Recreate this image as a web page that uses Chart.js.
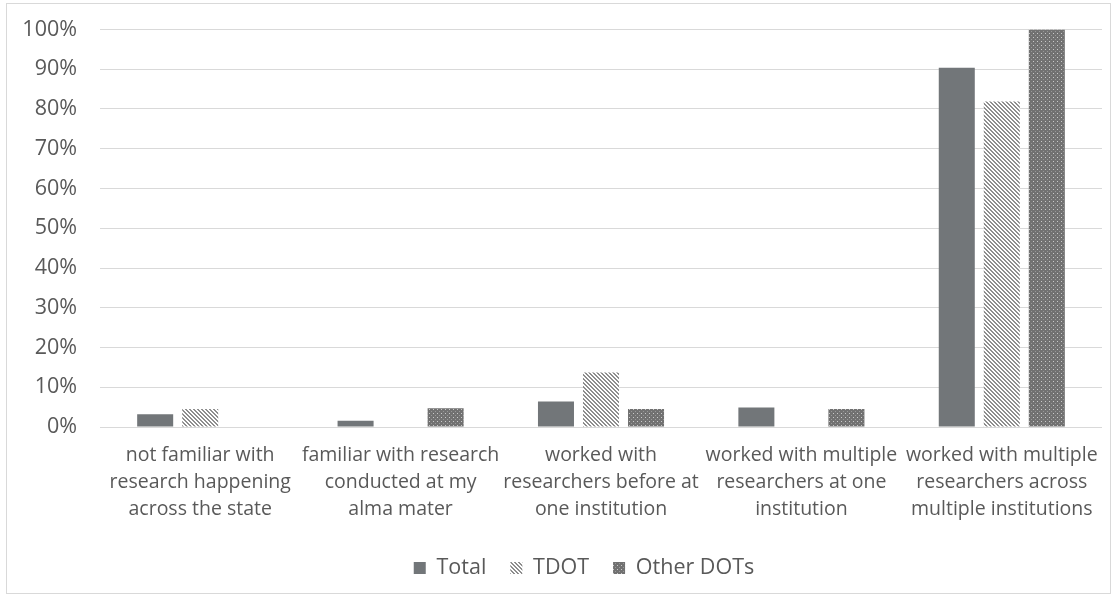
<!DOCTYPE html>
<html>
<head>
<meta charset="utf-8">
<script src="https://cdn.jsdelivr.net/npm/chart.js@4/dist/chart.umd.min.js"></script>
<style>
  html, body { margin: 0; padding: 0; background: #ffffff; }
  #wrap { width: 1117px; height: 596px; position: relative; }
  canvas { display: block; }
</style>
</head>
<body>
<div id="wrap"><canvas id="chart" width="1117" height="596"></canvas></div>
<script>
// Survey categories (wrapped into lines as shown under the axis)
const categories = [
  ['not familiar with', 'research happening', 'across the state'],
  ['familiar with research', 'conducted at my', 'alma mater'],
  ['worked with', 'researchers before at', 'one institution'],
  ['worked with multiple', 'researchers at one', 'institution'],
  ['worked with multiple', 'researchers across', 'multiple institutions']
];

// Share of respondents (%) per group
const totalValues    = [3.2, 1.6, 6.4, 4.9, 90.4];
const tdotValues     = [4.5, 0, 13.7, 0, 81.9];
const otherDotValues = [0, 4.7, 4.5, 4.5, 100];

const seriesNames = ['Total', 'TDOT', 'Other DOTs'];

// Y axis ticks (%)
const yTickValues = [0, 10, 20, 30, 40, 50, 60, 70, 80, 90, 100];

const canvas = document.getElementById('chart');
const ctx = canvas.getContext('2d');

// Fine downward-diagonal hatch
function hatchPattern() {
  const c = document.createElement('canvas');
  c.width = 4; c.height = 4;
  const g = c.getContext('2d');
  g.fillStyle = '#ffffff';
  g.fillRect(0, 0, 4, 4);
  g.fillStyle = '#8e8e8e';
  for (let i = 0; i < 4; i++) {
    g.fillRect(i, i, 1, 1);
    g.fillRect((i + 1) % 4, i, 1, 1);
  }
  return ctx.createPattern(c, 'repeat');
}

// Dark fill with a light dotted grid
function dottedPattern() {
  const c = document.createElement('canvas');
  c.width = 4; c.height = 4;
  const g = c.getContext('2d');
  g.fillStyle = '#717171';
  g.fillRect(0, 0, 4, 4);
  g.fillStyle = '#c9c9c9';
  g.fillRect(1, 1, 1, 1);
  g.fillStyle = '#979797';
  g.fillRect(3, 3, 1, 1);
  return ctx.createPattern(c, 'repeat');
}

const textColor = '#595959';
const gridColor = '#d9d9d9';
const fontFamily = '"Open Sans", "Noto Sans", sans-serif';

// Light outer frame around the chart
const framePlugin = {
  id: 'frame',
  beforeDraw(chart) {
    const g = chart.ctx;
    g.save();
    g.fillStyle = '#ffffff';
    g.fillRect(0, 0, chart.width, chart.height);
    g.strokeStyle = '#d9d9d9';
    g.lineWidth = 1;
    g.strokeRect(6.5, 3.5, 1104, 590);
    g.restore();
  }
};

// Nudge the legend row a little to the right of the canvas centre
const legendOffsetPlugin = {
  id: 'legendOffset',
  afterLayout(chart) {
    if (chart.legend) {
      chart.legend.left += 33;
      chart.legend.right += 33;
    }
  }
};

new Chart(ctx, {
  type: 'bar',
  data: {
    labels: categories,
    datasets: [
      { label: seriesNames[0], data: totalValues, backgroundColor: '#727679', borderWidth: 0 },
      { label: seriesNames[1], data: tdotValues, backgroundColor: hatchPattern(), borderWidth: 0 },
      { label: seriesNames[2], data: otherDotValues, backgroundColor: dottedPattern(), borderWidth: 0 }
    ]
  },
  options: {
    responsive: false,
    animation: false,
    devicePixelRatio: 1,
    layout: { padding: { top: 29.5, right: 15, bottom: 7.25, left: 0 } },
    datasets: {
      bar: { categoryPercentage: 0.674, barPercentage: 0.8 }
    },
    scales: {
      x: {
        grid: { display: false, drawTicks: false },
        border: { display: false },
        ticks: {
          color: textColor,
          font: { family: fontFamily, size: 19.5, lineHeight: 27 / 19.5 },
          padding: 15,
          maxRotation: 0,
          autoSkip: false
        },
        afterFit(scale) { scale.height = 106.25; }
      },
      y: {
        min: 0,
        max: 100,
        afterBuildTicks(scale) { scale.ticks = yTickValues.map(v => ({ value: v })); },
        grid: { color: gridColor, lineWidth: 1, drawTicks: true, tickLength: 23, tickColor: 'rgba(0,0,0,0)' },
        border: { display: false },
        ticks: {
          color: textColor,
          font: { family: fontFamily, size: 21.5 },
          padding: 0,
          callback: v => v + '%'
        },
        afterFit(scale) { scale.width = 100; }
      }
    },
    plugins: {
      legend: {
        position: 'bottom',
        labels: {
          color: textColor,
          font: { family: fontFamily, size: 21.5 },
          boxWidth: 12,
          boxHeight: 12,
          padding: 24
        }
      },
      tooltip: { enabled: false }
    }
  },
  plugins: [framePlugin, legendOffsetPlugin]
});
</script>
</body>
</html>
